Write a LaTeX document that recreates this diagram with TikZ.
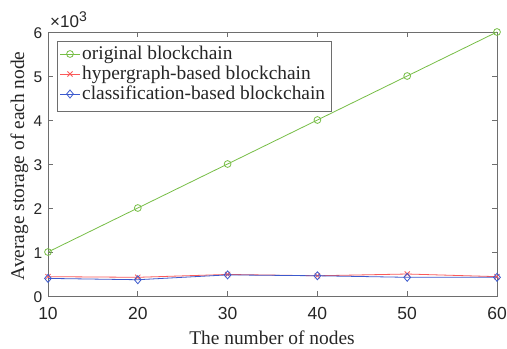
\documentclass[tikz,border=0pt]{standalone}
\usepackage{fontspec}
\setmainfont{Liberation Serif}
\newfontfamily\ticksans{Liberation Sans}
\definecolor{axisgray}{RGB}{110,110,110}
\definecolor{labdark}{RGB}{38,38,38}
\definecolor{origgreen}{RGB}{119,190,70}
\definecolor{hypred}{RGB}{250,90,90}
\definecolor{clsblue}{RGB}{60,90,205}
\begin{document}
\begin{tikzpicture}[x=1bp,y=-1bp,
  axisline/.style={draw=axisgray,line width=0.8bp},
  xticklab/.style={font=\ticksans\fontsize{17.5bp}{20bp}\selectfont,inner sep=0pt,text=labdark},
  yticklab/.style={font=\ticksans\fontsize{15.5bp}{18bp}\selectfont,inner sep=0pt,text=labdark,anchor=east},
  seriflab/.style={font=\fontsize{19.4bp}{23bp}\selectfont,inner sep=0pt,text=labdark},
  greenline/.style={draw=origgreen,line width=0.8bp},
  redline/.style={draw=hypred,line width=0.8bp},
  blueline/.style={draw=clsblue,line width=0.8bp},
  legendbox/.style={draw=axisgray,fill=white,line width=0.8bp,inner sep=0pt,
    minimum width=274bp,minimum height=70bp}
]
\useasboundingbox (0,0) rectangle (507,348);
\fill[white] (0,0) rectangle (507,348);

% axes frame
\draw[axisline] (48,32) rectangle (497,296);

% x ticks and labels
\foreach \v in {10,20,...,60}{
  \draw[axisline] ({48+(\v-10)*8.98},296) -- ++(0,-5);
  \draw[axisline] ({48+(\v-10)*8.98},32) -- ++(0,5);
  \node[xticklab] (xt\v) at ({48+(\v-10)*8.98},313) {\v};
}

% y ticks and labels
\foreach \w in {0,...,6}{
  \draw[axisline] (48,{296-\w*44}) -- ++(5,0);
  \draw[axisline] (497,{296-\w*44}) -- ++(-5,0);
  \node[yticklab] (yt\w) at (42.5,{297-\w*44}) {\w};
}

% exponent of the y axis
\node[font=\ticksans\fontsize{17bp}{19bp}\selectfont,inner sep=0pt,text=labdark,anchor=base west]
  (yexp) at (50,27.5) {×10\raisebox{6.5bp}{\fontsize{14bp}{16bp}\selectfont 3}};

% axis titles
\node[seriflab,anchor=base] (xlab) at (272,344.5) {The number of nodes};
\node[seriflab,anchor=base,rotate=90] (ylab) at (24,166) {Average storage of each node};

% data points (values in thousands)
\foreach \i/\v/\g/\r/\b in {1/10/1/0.44/0.40, 2/20/2/0.425/0.37, 3/30/3/0.49/0.48,
                            4/40/4/0.46/0.46, 5/50/5/0.50/0.425, 6/60/6/0.44/0.425}{
  \coordinate (g\i) at ({48+(\v-10)*8.98},{296-\g*44});
  \coordinate (r\i) at ({48+(\v-10)*8.98},{296-\r*44});
  \coordinate (b\i) at ({48+(\v-10)*8.98},{296-\b*44});
}

% original blockchain
\draw[greenline] (g1) -- (g2) -- (g3) -- (g4) -- (g5) -- (g6);
\foreach \i in {1,...,6}{\draw[greenline] (g\i) circle[radius=3.4bp];}

% hypergraph-based blockchain
\draw[redline] (r1) -- (r2) -- (r3) -- (r4) -- (r5) -- (r6);
\foreach \i in {1,...,6}{\draw[redline] (r\i) +(-2.6,-2.6) -- +(2.6,2.6) (r\i) +(-2.6,2.6) -- +(2.6,-2.6);}

% classification-based blockchain
\draw[blueline] (b1) -- (b2) -- (b3) -- (b4) -- (b5) -- (b6);
\foreach \i in {1,...,6}{\draw[blueline] (b\i) +(0,-4) -- +(3.4,0) -- +(0,4) -- +(-3.4,0) -- cycle;}

% legend
\node[legendbox] (legend) at (194,76) {};
\coordinate (lg) at (70,54);
\coordinate (lr) at (70,74);
\coordinate (lb) at (70,94);
\draw[greenline] (lg) +(-10,0) -- +(10,0);
\draw[greenline] (lg) circle[radius=3.4bp];
\draw[redline] (lr) +(-10,0) -- +(10,0);
\draw[redline] (lr) +(-2.6,-2.6) -- +(2.6,2.6) (lr) +(-2.6,2.6) -- +(2.6,-2.6);
\draw[blueline] (lb) +(-10,0) -- +(10,0);
\draw[blueline] (lb) +(0,-4) -- +(3.4,0) -- +(0,4) -- +(-3.4,0) -- cycle;
\node[seriflab,anchor=base west] (tg) at (82,59) {original blockchain};
\node[seriflab,anchor=base west] (tr) at (82,79) {hypergraph-based blockchain};
\node[seriflab,anchor=base west] (tb) at (82,99) {classification-based blockchain};
\end{tikzpicture}
\end{document}
